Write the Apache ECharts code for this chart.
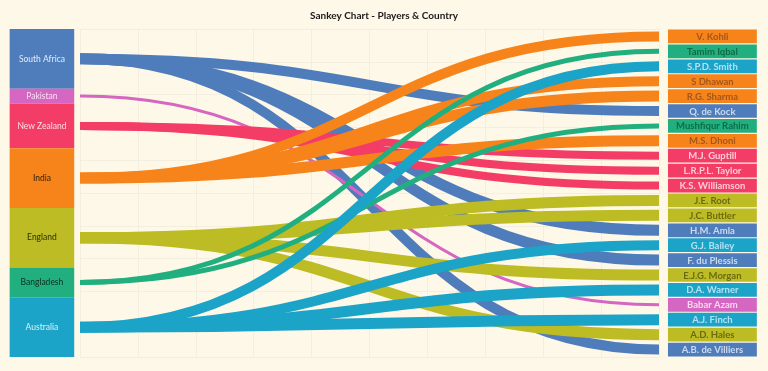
<!DOCTYPE html>
<html><head><meta charset="utf-8">
<script src="https://cdn.jsdelivr.net/npm/echarts@6/dist/echarts.min.js"></script>
<style>html,body{margin:0;padding:0;background:#FDF8E7}#c{width:768px;height:371px}</style>
</head><body><div id="c"></div><script>
// ---- data ----
const countries = ['South Africa','Pakistan','New Zealand','India','England','Bangladesh','Australia'];
const players = ['V. Kohli','Tamim Iqbal','S.P.D. Smith','S Dhawan','R.G. Sharma','Q. de Kock','Mushfiqur Rahim','M.S. Dhoni','M.J. Guptill','L.R.P.L. Taylor','K.S. Williamson','J.E. Root','J.C. Buttler','H.M. Amla','G.J. Bailey','F. du Plessis','E.J.G. Morgan','D.A. Warner','Babar Azam','A.J. Finch','A.D. Hales','A.B. de Villiers'];
const playerCountry = ['India','Bangladesh','Australia','India','India','South Africa','Bangladesh','India','New Zealand','New Zealand','New Zealand','England','England','South Africa','Australia','South Africa','England','Australia','Pakistan','Australia','England','South Africa'];
const flowValues = [10,5,10,10,11,10,5,11,8,8,8,11,11,11,10,11,11,11,3,11,11,10];

// ---- styles ----
const countryColors = ['#4F7DBB','#D566C1','#F43D66','#F7841B','#BDBC24','#22AF7F','#1CA3C8'];
const leftTextColors = ['#E4EBF6','#F8E0F2','#FDDDE5','#2E1E0A','#2E2E08','#08301F','#DDF1F8'];
const rightTextColors = ['#CBDAF1','#F8D8EF','#FCCCD7','#A4561C','#6B6B12','#0F6B47','#B2E2F2'];
const LEFT_X = [-1.215, -0.1];
const RIGHT_X = [10.155, 11.69];
const FLOW_X = [0, 10];
const FONT = 'Lato, "Liberation Sans", sans-serif';

// ---- derived layout in slot units ----
const counts = countries.map(c => playerCountry.filter(p => p === c).length);
const starts = [];
counts.reduce((acc, n, i) => { starts[i] = acc; return acc + n; }, 0);
const total = players.length;

const leftData = countries.map((c, i) => [starts[i], starts[i] + counts[i], i]);
const rightData = players.map((p, i) => [i, i + 1, countries.indexOf(playerCountry[i])]);
const flowData = [];
countries.forEach((c, ci) => {
  players.forEach((p, pi) => {
    if (playerCountry[pi] === c) flowData.push([starts[ci] + counts[ci] / 2, pi + 0.5, flowValues[pi], ci]);
  });
});

const chart = echarts.init(document.getElementById('c'), null, {renderer: 'canvas'});
chart.setOption({
  backgroundColor: '#FDF8E7',
  animation: false,
  title: {
    text: 'Sankey Chart - Players & Country',
    left: 'center', top: 6,
    textStyle: {fontFamily: FONT, fontSize: 10, fontWeight: 'bold', color: '#1A1A1A'}
  },
  grid: {left: 80, right: 109, top: 29, bottom: 14},
  xAxis: {
    type: 'value', min: 0, max: 10, interval: 1,
    axisLine: {show: false}, axisTick: {show: false}, axisLabel: {show: false},
    splitLine: {show: true, lineStyle: {color: '#F3EEDD', width: 1}}
  },
  yAxis: {
    type: 'value', min: 0, max: total, interval: total / 10, inverse: true,
    axisLine: {show: false}, axisTick: {show: false}, axisLabel: {show: false},
    splitLine: {show: true, lineStyle: {color: '#F3EEDD', width: 1}}
  },
  series: [
    {
      type: 'custom', name: 'flows', data: flowData, clip: false,
      renderItem: (params, api) => {
        const p0 = api.coord([FLOW_X[0], api.value(0)]);
        const p3 = api.coord([FLOW_X[1], api.value(1)]);
        const mx = (p0[0] + p3[0]) / 2;
        return {
          type: 'bezierCurve',
          shape: {x1: p0[0], y1: p0[1], x2: p3[0], y2: p3[1], cpx1: mx, cpy1: p0[1], cpx2: mx, cpy2: p3[1]},
          style: {stroke: countryColors[api.value(3)], lineWidth: api.value(2), fill: 'none'}
        };
      }
    },
    {
      type: 'custom', name: 'countries', data: leftData, clip: false,
      renderItem: (params, api) => {
        const a = api.coord([LEFT_X[0], api.value(0)]);
        const b = api.coord([LEFT_X[1], api.value(1)]);
        const ci = api.value(2);
        return {
          type: 'group',
          children: [
            {type: 'rect', shape: {x: a[0], y: a[1], width: b[0] - a[0], height: b[1] - a[1]}, style: {fill: countryColors[ci]}},
            {type: 'text', style: {text: countries[ci], x: (a[0] + b[0]) / 2, y: (a[1] + b[1]) / 2, align: 'center', verticalAlign: 'middle', fill: leftTextColors[ci], fontSize: 8.5, fontFamily: FONT}}
          ]
        };
      }
    },
    {
      type: 'custom', name: 'players', data: rightData, clip: false,
      renderItem: (params, api) => {
        const a = api.coord([RIGHT_X[0], api.value(0)]);
        const b = api.coord([RIGHT_X[1], api.value(1)]);
        const ci = api.value(2);
        const idx = params.dataIndex;
        return {
          type: 'group',
          children: [
            {type: 'rect', shape: {x: a[0], y: a[1] + 0.6, width: b[0] - a[0], height: b[1] - a[1] - 1.2}, style: {fill: countryColors[ci]}},
            {type: 'text', style: {text: players[idx], x: (a[0] + b[0]) / 2, y: (a[1] + b[1]) / 2 + 0.5, align: 'center', verticalAlign: 'middle', fill: rightTextColors[ci], fontSize: 9.5, fontWeight: 'bold', fontFamily: FONT}}
          ]
        };
      }
    }
  ]
});
</script></body></html>
